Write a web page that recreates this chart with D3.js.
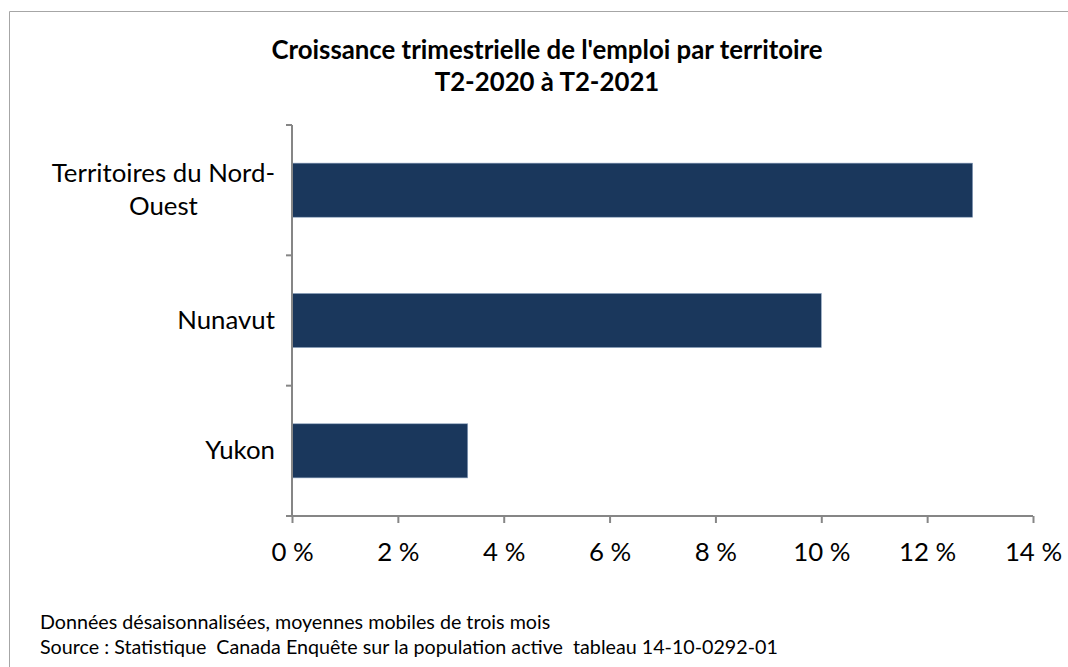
<!DOCTYPE html>
<html><head><meta charset="utf-8">
<script src="https://cdn.jsdelivr.net/npm/d3@7"></script>
<style>body{margin:0;background:#fff}svg{display:block}text{font-family:Lato,"Liberation Sans",sans-serif;fill:#000}</style>
</head><body><svg id="c" width="1068" height="667"></svg>
<script>
const categories = ["Territoires du Nord-Ouest", "Nunavut", "Yukon"];
const categoryLines = [["Territoires du Nord-", "Ouest"], ["Nunavut"], ["Yukon"]];
const values = [12.86, 10.0, 3.32];
const xTicks = [0, 2, 4, 6, 8, 10, 12, 14];
const titleLines = ["Croissance trimestrielle de l'emploi par territoire", "T2-2020 à T2-2021"];
const notes = ["Données désaisonnalisées, moyennes mobiles de trois mois",
  "Source : Statistique  Canada Enquête sur la population active  tableau 14-10-0292-01"];

(function(){
const svg = d3.select("#c");
svg.append("rect").attr("x",0).attr("y",0).attr("width",1068).attr("height",667).attr("fill","#fff");
svg.append("path").attr("d","M9.5,667 V11.5 H1068").attr("fill","none").attr("stroke","#a6a6a6").attr("stroke-width",1);

const pl = 292, pr = 1033, pt = 125, pb = 516;
const x = d3.scaleLinear().domain([0,14]).range([pl,pr]);
const y = d3.scaleBand().domain(categories).range([pt,pb]).paddingInner(0.585).paddingOuter(0.2925);

svg.append("g").selectAll("text").data(titleLines).join("text")
  .attr("x",547).attr("y",(d,i)=>59+i*32).attr("text-anchor","middle")
  .attr("font-weight","bold").attr("font-size",25.8).text(d=>d);

svg.append("g").selectAll("rect").data(values).join("rect")
  .attr("x",x(0)).attr("y",(d,i)=>y(categories[i]))
  .attr("width",d=>x(d)-x(0)).attr("height",y.bandwidth())
  .attr("fill","#1a375c").attr("stroke","#8ea3bf").attr("stroke-width",0.6);

const yAxisG = svg.append("g").attr("transform",`translate(${pl},0)`);
yAxisG.append("line").attr("x1",0).attr("x2",0).attr("y1",pt).attr("y2",pb).attr("stroke","#868686").attr("stroke-width",2);
const step = (pb-pt)/categories.length;
yAxisG.selectAll("line.t").data(d3.range(categories.length+1)).join("line").attr("class","t")
  .attr("x1",-6).attr("x2",0).attr("y1",i=>pt+i*step).attr("y2",i=>pt+i*step)
  .attr("stroke","#868686").attr("stroke-width",2);
categories.forEach((c,i)=>{
  const lines = categoryLines[i];
  const cy = y(c)+y.bandwidth()/2;
  const lh = 33;
  const g = svg.append("g");
  const ts = lines.map((l,j)=>g.append("text").attr("y",cy+8.5+(j-(lines.length-1)/2)*lh)
      .attr("text-anchor","middle").attr("font-size",25.8).text(l));
  const maxW = d3.max(ts, t=>t.node().getComputedTextLength());
  ts.forEach(t=>t.attr("x",275-maxW/2));
});

const xAxis = d3.axisBottom(x).tickValues(xTicks).tickSize(7).tickFormat(d=>d+" %");
const xg = svg.append("g").attr("transform",`translate(0,${pb})`).call(xAxis);
xg.select(".domain").attr("stroke","#868686").attr("stroke-width",2).attr("d",`M${pl-6},0H${pr}`);
xg.selectAll(".tick line").attr("stroke","#868686").attr("stroke-width",2);
xg.selectAll(".tick text").attr("font-size",25.8).attr("dy",0).attr("y",45).attr("font-family",null).attr("fill","#000");

svg.append("g").selectAll("text").data(notes).join("text")
  .attr("x",40).attr("y",(d,i)=>629+i*25).attr("font-size",19.7).attr("xml:space","preserve").style("white-space","pre").text(d=>d);
})();
</script></body></html>
